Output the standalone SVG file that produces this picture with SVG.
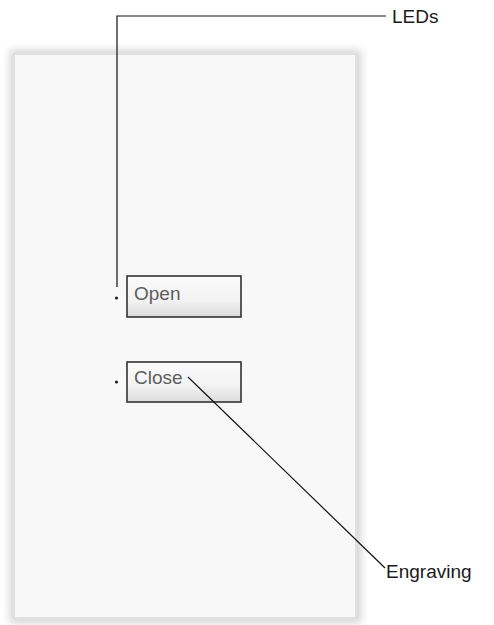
<svg xmlns="http://www.w3.org/2000/svg" width="494" height="625" viewBox="0 0 494 625">
<defs>
<filter id="sh" x="-10%" y="-10%" width="120%" height="120%"><feGaussianBlur stdDeviation="4"/></filter>
<linearGradient id="btn" x1="0" y1="0" x2="0" y2="1"><stop offset="0" stop-color="#fbfbfb"/><stop offset="0.6" stop-color="#f2f2f2"/><stop offset="1" stop-color="#dcdcdc"/></linearGradient>
<style>
.lbl{font-family:"Liberation Sans",Arial,sans-serif;font-size:19px;fill:#1a1a1a}
.eng{font-family:"Liberation Sans",Arial,sans-serif;font-size:19px;fill:#5e5e5e}
.btn{fill:url(#btn);stroke:#333;stroke-width:1.6}
.led{fill:#222}
.ln{fill:none;stroke:#111;stroke-width:1.2}
</style>
</defs>
<rect width="494" height="625" fill="#fff"/>
<g id="plate">
<rect x="10" y="50" width="351" height="573" fill="#d4d4d4" filter="url(#sh)"/>
<rect x="14" y="54" width="342" height="564" fill="#f8f8f8" stroke="#e0e0e0" stroke-width="2"/>
</g>
<g id="open">
<rect class="btn" x="127" y="276" width="114" height="41"/>
<text class="eng" x="134" y="300">Open</text>
<circle class="led" cx="116.5" cy="298" r="1.6"/>
</g>
<g id="close">
<rect class="btn" x="127" y="362" width="114" height="40"/>
<text class="eng" x="134" y="384">Close</text>
<circle class="led" cx="116.5" cy="382" r="1.6"/>
</g>
<g id="connectors">
<polyline class="ln" points="117,287 117,16 386,16"/>
<line class="ln" x1="188" y1="377" x2="385" y2="568"/>
</g>
<g id="labels">
<text class="lbl" x="392" y="23">LEDs</text>
<text class="lbl" x="386" y="578">Engraving</text>
</g>
</svg>
